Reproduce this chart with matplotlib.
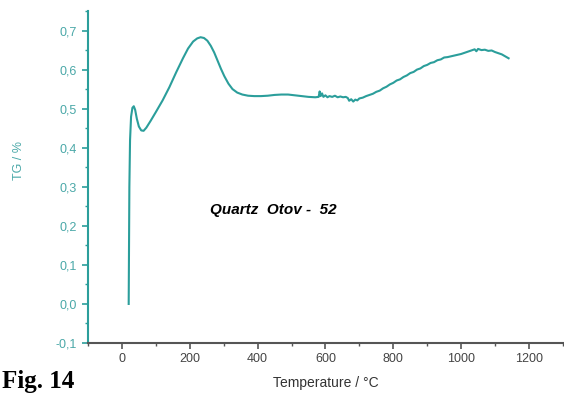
import matplotlib.pyplot as plt
from matplotlib.ticker import MultipleLocator, FuncFormatter

# TG curve (temperature in °C, TG in %)
temp = [20, 21, 22, 24, 27, 31, 35, 39, 44, 50, 57, 64, 72, 85, 100, 120, 140,
        160, 180, 195, 210, 222, 232, 242, 252, 262, 272, 282, 292, 302, 314,
        326, 340, 355, 372, 390, 410, 430, 450, 470, 490, 510, 530, 550, 570,
        580, 583, 586, 590, 594, 600, 606, 612, 620, 628, 636, 644, 652, 660,
        666, 670, 676, 682, 688, 694, 700, 710, 720, 730, 740, 750, 760, 770,
        780, 790, 800, 810, 820, 830, 840, 850, 860, 870, 880, 890, 900, 910,
        920, 930, 940, 950, 960, 970, 980, 990, 1000, 1010, 1020, 1030, 1040,
        1045, 1050, 1060, 1070, 1080, 1090, 1100, 1110, 1120, 1130, 1140]
tg = [0.000, 0.150, 0.300, 0.420, 0.480, 0.503, 0.507, 0.498, 0.475, 0.455,
      0.445, 0.444, 0.452, 0.470, 0.492, 0.522, 0.556, 0.594, 0.630, 0.655,
      0.673, 0.681, 0.684, 0.682, 0.675, 0.662, 0.645, 0.624, 0.603, 0.584,
      0.565, 0.551, 0.542, 0.537, 0.534, 0.533, 0.533, 0.534, 0.536, 0.537,
      0.537, 0.535, 0.533, 0.531, 0.530, 0.531, 0.545, 0.533, 0.540, 0.531,
      0.535, 0.530, 0.533, 0.531, 0.534, 0.530, 0.532, 0.530, 0.531, 0.528,
      0.521, 0.525, 0.519, 0.524, 0.522, 0.527, 0.529, 0.533, 0.536, 0.539,
      0.544, 0.547, 0.553, 0.557, 0.563, 0.567, 0.573, 0.576, 0.582, 0.586,
      0.592, 0.595, 0.601, 0.604, 0.610, 0.613, 0.618, 0.620, 0.625, 0.627,
      0.632, 0.633, 0.635, 0.637, 0.639, 0.641, 0.644, 0.647, 0.650, 0.653,
      0.648, 0.654, 0.651, 0.652, 0.649, 0.650, 0.646, 0.643, 0.640, 0.635,
      0.630]

teal = '#2b9e9b'
plt.rcParams['font.family'] = ['Liberation Sans', 'DejaVu Sans']

fig = plt.figure(figsize=(5.64, 3.96), dpi=100)
ax = fig.add_axes([0.156, 0.134, 0.842, 0.837])

ax.plot(temp, tg, color=teal, lw=1.5)

ax.set_xlim(-100, 1300)
ax.set_ylim(-0.1, 0.75)
ax.xaxis.set_major_locator(MultipleLocator(200))
ax.xaxis.set_minor_locator(MultipleLocator(100))
ax.yaxis.set_major_locator(MultipleLocator(0.1))
ax.yaxis.set_minor_locator(MultipleLocator(0.05))
ax.yaxis.set_major_formatter(FuncFormatter(lambda v, p: f'{v:.1f}'.replace('.', ',')))

for s in ['top', 'right']:
    ax.spines[s].set_visible(False)
ax.spines['left'].set_color(teal)
ax.spines['left'].set_linewidth(1.5)
ax.spines['bottom'].set_color('#555555')
ax.spines['bottom'].set_linewidth(1.5)

ax.tick_params(axis='y', which='major', colors=teal, length=4, width=1.2, labelsize=9, labelcolor='#4aa8a8', pad=4)
ax.tick_params(axis='y', which='minor', colors=teal, length=2.5, width=1)
ax.tick_params(axis='x', which='major', colors='#555555', length=4, width=1.2, labelsize=9, labelcolor='#444444')
ax.tick_params(axis='x', which='minor', colors='#555555', length=2.5, width=1)

ax.set_ylabel('TG / %', color='#4aa8a8', fontsize=9)
ax.yaxis.set_label_coords(-0.133, 0.55)
ax.set_xlabel('Temperature / °C', color='#333333', fontsize=10, labelpad=8)

ax.text(259, 0.241, 'Quartz  Otov -  52', fontsize=11, fontweight='bold', fontstyle='italic', va='center')

fig.text(0.003, 0.008, 'Fig. 14', fontsize=18, fontweight='bold', va='bottom',
         family=['Liberation Serif', 'DejaVu Serif'])

fig.savefig('out.png', dpi=100)
